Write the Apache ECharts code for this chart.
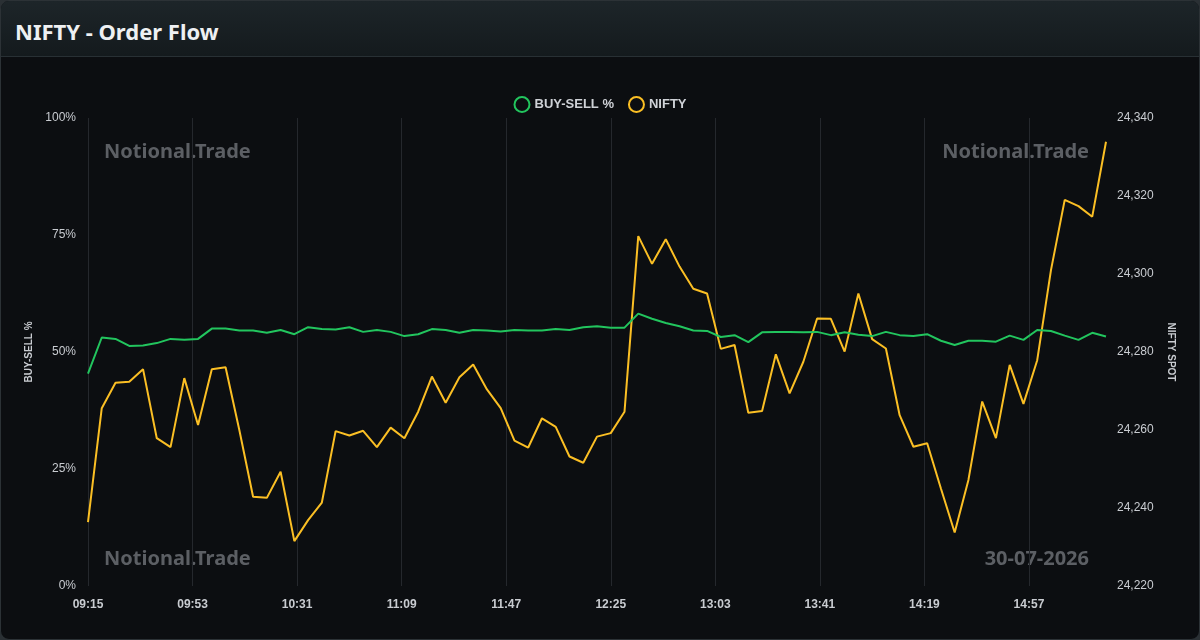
<!DOCTYPE html>
<html>
<head>
<meta charset="utf-8">
<title>NIFTY - Order Flow</title>
<script src="https://cdn.jsdelivr.net/npm/echarts@6/dist/echarts.min.js"></script>
<style>
  html, body { margin: 0; padding: 0; background: #2a3034; }
  .card {
    position: absolute; left: 0; top: 0; width: 1198px; height: 638px;
    border: 1px solid #2c3236; border-radius: 9px; overflow: hidden;
    background: #0c0e11;
  }
  .card-head {
    position: absolute; left: 0; top: 0; width: 100%; height: 55px;
    background: linear-gradient(#1d2529, #141a1d);
    border-bottom: 1px solid #283034;
    z-index: 2;
  }
  .card-head h3 {
    margin: 0; position: absolute; left: 14px; top: 15px;
    font-family: "Noto Sans", sans-serif; font-weight: 700; font-size: 22px;
    color: #eef0f2; line-height: 30px;
  }
  #flow { position: absolute; left: -1px; top: -1px; width: 1200px; height: 640px; }
</style>
</head>
<body>
<div class="card">
  <div class="card-head"><h3>NIFTY - Order Flow</h3></div>
  <div id="flow"></div>
</div>
<script type="text/javascript">
// 5 minute snapshots
var times = [
  '09:15','09:20','09:25','09:30','09:35','09:40','09:45','09:50','09:55','10:00',
  '10:05','10:10','10:15','10:20','10:25','10:30','10:35','10:40','10:45','10:50',
  '10:55','11:00','11:05','11:10','11:15','11:20','11:25','11:30','11:35','11:40',
  '11:45','11:50','11:55','12:00','12:05','12:10','12:15','12:20','12:25','12:30',
  '12:35','12:40','12:45','12:50','12:55','13:00','13:05','13:10','13:15','13:20',
  '13:25','13:30','13:35','13:40','13:45','13:50','13:55','14:00','14:05','14:10',
  '14:15','14:20','14:25','14:30','14:35','14:40','14:45','14:50','14:55','15:00',
  '15:05','15:10','15:15','15:20','15:25'
];
var buySell = [
  45.4, 53.1, 52.8, 51.3, 51.4, 51.9, 52.8, 52.6, 52.8, 55.0,
  55.0, 54.6, 54.6, 54.1, 54.7, 53.8, 55.3, 54.9, 54.8, 55.3,
  54.3, 54.7, 54.3, 53.4, 53.8, 54.9, 54.7, 54.1, 54.7, 54.6,
  54.4, 54.7, 54.6, 54.6, 54.9, 54.7, 55.3, 55.5, 55.2, 55.2,
  58.2, 57.1, 56.2, 55.5, 54.6, 54.5, 53.2, 53.6, 52.1, 54.2,
  54.3, 54.3, 54.2, 54.3, 53.6, 54.2, 53.7, 53.4, 54.3, 53.6,
  53.4, 53.8, 52.4, 51.5, 52.4, 52.4, 52.2, 53.5, 52.6, 54.7,
  54.5, 53.5, 52.6, 54.1, 53.3
];
var nifty = [
  24236.4, 24265.6, 24272.1, 24272.4, 24275.6, 24257.9, 24255.6, 24273.3, 24261.3, 24275.6,
  24276.1, 24260.0, 24242.9, 24242.6, 24249.3, 24231.5, 24236.9, 24241.4, 24259.7, 24258.6,
  24259.8, 24255.6, 24260.6, 24257.9, 24264.7, 24273.7, 24267.0, 24273.5, 24276.8, 24270.4,
  24265.6, 24257.3, 24255.5, 24263.0, 24260.8, 24253.2, 24251.6, 24258.3, 24259.2, 24264.7,
  24309.7, 24302.6, 24308.9, 24301.9, 24296.2, 24295.0, 24280.8, 24281.8, 24264.4, 24264.9,
  24279.4, 24269.4, 24277.5, 24288.6, 24288.5, 24280.1, 24295.0, 24283.3, 24280.9, 24263.8,
  24255.7, 24256.6, 24245.0, 24233.7, 24247.2, 24267.3, 24257.9, 24276.7, 24266.7, 24277.9,
  24301.0, 24319.0, 24317.4, 24314.7, 24333.9
];
var marks = ['Notional.Trade', 'Notional.Trade', 'Notional.Trade', '30-07-2026'];

var OPEN = 9 * 60 + 15;
function toMin(t) {
  var p = t.split(':');
  return +p[0] * 60 + +p[1] - OPEN;
}
function toClock(v) {
  var m = OPEN + v;
  var h = Math.floor(m / 60), mm = m % 60;
  return (h < 10 ? '0' : '') + h + ':' + (mm < 10 ? '0' : '') + mm;
}
var buySellPts = times.map(function (t, i) { return [toMin(t), buySell[i]]; });
var niftyPts = times.map(function (t, i) { return [toMin(t), nifty[i]]; });

var axisFont = 'Liberation Sans, Arial, sans-serif';
var markStyle = { fill: '#5c5f64', font: 'bold 20px "Noto Sans", sans-serif' };

var myChart = echarts.init(document.getElementById('flow'));
var option = {
  backgroundColor: 'transparent',
  animation: false,
  legend: {
    top: 91,
    left: 'center',
    itemWidth: 15,
    itemHeight: 15,
    itemGap: 14,
    textStyle: { color: '#cfd2d7', fontSize: 13, fontWeight: 'bold', fontFamily: axisFont },
    data: [
      { name: 'BUY-SELL %', icon: 'circle', itemStyle: { color: 'transparent', borderColor: '#22c55e', borderWidth: 2 } },
      { name: 'NIFTY', icon: 'circle', itemStyle: { color: 'transparent', borderColor: '#fbbf24', borderWidth: 2 } }
    ]
  },
  grid: { left: 88, right: 94, top: 118, bottom: 54 },
  xAxis: {
    type: 'value',
    min: 0,
    max: 370,
    interval: 38,
    axisLine: { show: false },
    axisTick: { show: false },
    axisLabel: {
      color: '#c9ccd1', fontSize: 12, fontWeight: 'bold', fontFamily: axisFont,
      margin: 13, showMaxLabel: false,
      formatter: function (v) { return toClock(v); }
    },
    splitLine: { show: true, showMaxLine: false, lineStyle: { color: '#25282d', width: 1 } }
  },
  yAxis: [
    {
      type: 'value',
      name: 'BUY-SELL %',
      nameLocation: 'middle',
      nameGap: 53,
      nameRotate: 90,
      nameTextStyle: { color: '#c9ccd1', fontSize: 10, fontWeight: 'bold', fontFamily: axisFont },
      min: 0,
      max: 100,
      interval: 25,
      axisLine: { show: false },
      axisTick: { show: false },
      splitLine: { show: false },
      axisLabel: { color: '#c9ccd1', fontSize: 12, fontFamily: axisFont, margin: 12, formatter: '{value}%' }
    },
    {
      type: 'value',
      name: 'NIFTY SPOT',
      nameLocation: 'middle',
      nameGap: 60,
      nameRotate: -90,
      nameTextStyle: { color: '#c9ccd1', fontSize: 10, fontWeight: 'bold', fontFamily: axisFont },
      min: 24220,
      max: 24340,
      interval: 20,
      position: 'right',
      axisLine: { show: false },
      axisTick: { show: false },
      splitLine: { show: false },
      axisLabel: {
        color: '#c9ccd1', fontSize: 12, fontFamily: axisFont, margin: 11,
        formatter: function (v) { return v.toLocaleString('en-US'); }
      }
    }
  ],
  graphic: [
    { type: 'text', left: 104, top: 142, style: Object.assign({ text: marks[0] }, markStyle), silent: true },
    { type: 'text', right: 111, top: 142, style: Object.assign({ text: marks[1] }, markStyle), silent: true },
    { type: 'text', left: 104, top: 549, style: Object.assign({ text: marks[2] }, markStyle), silent: true },
    { type: 'text', right: 111, top: 549, style: Object.assign({ text: marks[3] }, markStyle), silent: true }
  ],
  series: [
    {
      name: 'BUY-SELL %',
      type: 'line',
      yAxisIndex: 0,
      data: buySellPts,
      showSymbol: false,
      lineStyle: { color: '#22c55e', width: 2 },
      itemStyle: { color: '#22c55e' },
      z: 3
    },
    {
      name: 'NIFTY',
      type: 'line',
      yAxisIndex: 1,
      data: niftyPts,
      showSymbol: false,
      lineStyle: { color: '#fbbf24', width: 2 },
      itemStyle: { color: '#fbbf24' },
      z: 2
    }
  ]
};
myChart.setOption(option);
</script>
</body>
</html>
